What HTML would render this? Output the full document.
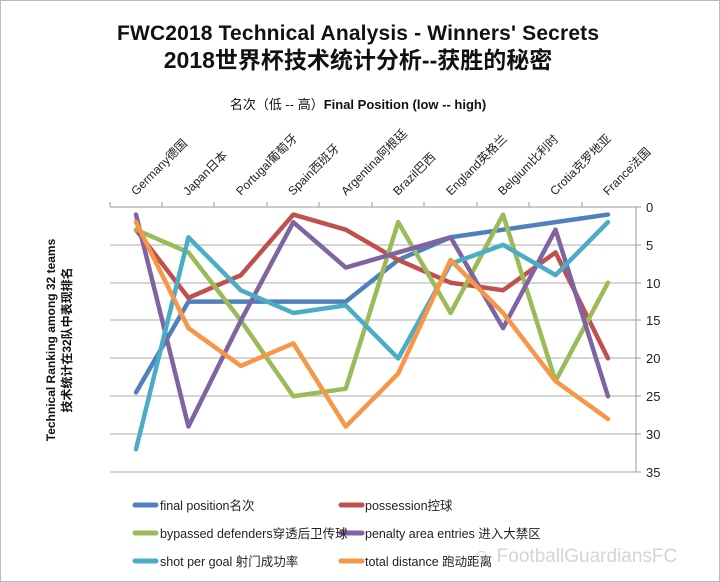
<!DOCTYPE html>
<html><head><meta charset="utf-8"><style>
html,body{margin:0;padding:0;background:#fff}
svg{display:block}
text{font-family:"Liberation Sans","Noto Sans CJK SC",sans-serif}
</style></head><body>
<svg width="720" height="582" viewBox="0 0 720 582" xmlns="http://www.w3.org/2000/svg">
<rect x="0.5" y="0.5" width="719" height="581" fill="#fff" stroke="#bbb"/>
<text x="358" y="40" text-anchor="middle" font-size="21" font-weight="bold" fill="#111" textLength="482">FWC2018 Technical Analysis - Winners' Secrets</text>
<text x="358" y="68" text-anchor="middle" font-size="23" font-weight="bold" fill="#111">2018世界杯技术统计分析--获胜的秘密</text>
<text x="358" y="109" text-anchor="middle" font-size="13" fill="#111">名次（低 -- 高）<tspan font-weight="bold">Final Position (low -- high)</tspan></text>
<g font-size="12" fill="#222">
<text transform="translate(136,196) rotate(-45)">Germany德国</text>
<text transform="translate(188,196) rotate(-45)">Japan日本</text>
<text transform="translate(241,196) rotate(-45)">Portugal葡萄牙</text>
<text transform="translate(293,196) rotate(-45)">Spain西班牙</text>
<text transform="translate(346,196) rotate(-45)">Argentina阿根廷</text>
<text transform="translate(398,196) rotate(-45)">Brazil巴西</text>
<text transform="translate(451,196) rotate(-45)">England英格兰</text>
<text transform="translate(503,196) rotate(-45)">Belgium比利时</text>
<text transform="translate(555,196) rotate(-45)">Crotia克罗地亚</text>
<text transform="translate(608,196) rotate(-45)">France法国</text>
</g>
<g stroke="#c8c8c8" stroke-width="1.5">
<line x1="110" y1="245" x2="636" y2="245"/><line x1="110" y1="283" x2="636" y2="283"/>
<line x1="110" y1="320" x2="636" y2="320"/><line x1="110" y1="358" x2="636" y2="358"/>
<line x1="110" y1="396" x2="636" y2="396"/><line x1="110" y1="434" x2="636" y2="434"/>
<line x1="110" y1="472" x2="636" y2="472"/>
</g>
<g stroke="#999" stroke-width="1">
<line x1="110" y1="207" x2="636" y2="207"/>
<line x1="636" y1="207" x2="636" y2="472"/>
<line x1="162" y1="202" x2="162" y2="207"/><line x1="214" y1="202" x2="214" y2="207"/>
<line x1="267" y1="202" x2="267" y2="207"/><line x1="319" y1="202" x2="319" y2="207"/>
<line x1="372" y1="202" x2="372" y2="207"/><line x1="424" y1="202" x2="424" y2="207"/>
<line x1="477" y1="202" x2="477" y2="207"/><line x1="529" y1="202" x2="529" y2="207"/>
<line x1="582" y1="202" x2="582" y2="207"/><line x1="110" y1="202" x2="110" y2="207"/>
<line x1="636" y1="207" x2="641" y2="207"/><line x1="636" y1="245" x2="641" y2="245"/>
<line x1="636" y1="283" x2="641" y2="283"/><line x1="636" y1="320" x2="641" y2="320"/>
<line x1="636" y1="358" x2="641" y2="358"/><line x1="636" y1="396" x2="641" y2="396"/>
<line x1="636" y1="434" x2="641" y2="434"/><line x1="636" y1="472" x2="641" y2="472"/>
</g>
<g font-size="13" fill="#222">
<text x="646" y="212">0</text><text x="646" y="250">5</text><text x="646" y="288">10</text>
<text x="646" y="325">15</text><text x="646" y="363">20</text><text x="646" y="401">25</text>
<text x="646" y="439">30</text><text x="646" y="477">35</text>
</g>
<text transform="translate(55,340) rotate(-90)" text-anchor="middle" font-size="12" font-weight="bold" fill="#111">Technical Ranking among 32 teams</text>
<text transform="translate(71,340) rotate(-90)" text-anchor="middle" font-size="12" font-weight="bold" fill="#111">技术统计在32队中表现排名</text>
<g transform="translate(136,207) scale(52.44,7.57)" fill="none" stroke-linejoin="round" stroke-linecap="round">
<polyline vector-effect="non-scaling-stroke" stroke-width="4.5" stroke="#4f81bd" points="0,24.5 1,12.5 2,12.5 3,12.5 4,12.5 5,7 6,4 7,3 8,2 9,1"/>
<polyline vector-effect="non-scaling-stroke" stroke-width="4.5" stroke="#c0504d" points="0,3 1,12 2,9 3,1 4,3 5,7 6,10 7,11 8,6 9,20"/>
<polyline vector-effect="non-scaling-stroke" stroke-width="4.5" stroke="#9bbb59" points="0,3 1,6 2,15 3,25 4,24 5,2 6,14 7,1 8,23 9,10"/>
<polyline vector-effect="non-scaling-stroke" stroke-width="4.5" stroke="#8064a2" points="0,1 1,29 2,15 3,2 4,8 5,6 6,4 7,16 8,3 9,25"/>
<polyline vector-effect="non-scaling-stroke" stroke-width="4.5" stroke="#4bacc6" points="0,32 1,4 2,11 3,14 4,13 5,20 6,7.5 7,5 8,9 9,2"/>
<polyline vector-effect="non-scaling-stroke" stroke-width="4.5" stroke="#f79646" points="0,2 1,16 2,21 3,18 4,29 5,22 6,7 7,14 8,23 9,28"/>
</g>
<g stroke-width="5" stroke-linecap="round">
<line x1="135" y1="505" x2="156" y2="505" stroke="#4f81bd"/>
<line x1="341" y1="505" x2="362" y2="505" stroke="#c0504d"/>
<line x1="135" y1="533" x2="156" y2="533" stroke="#9bbb59"/>
<line x1="341" y1="533" x2="362" y2="533" stroke="#8064a2"/>
<line x1="135" y1="561" x2="156" y2="561" stroke="#4bacc6"/>
<line x1="341" y1="561" x2="362" y2="561" stroke="#f79646"/>
</g>
<g font-size="12.5" fill="#222">
<text x="160" y="510">final position名次</text>
<text x="365" y="510">possession控球</text>
<text x="160" y="538">bypassed defenders穿透后卫传球</text>
<text x="365" y="538">penalty area entries 进入大禁区</text>
<text x="160" y="566">shot per goal 射门成功率</text>
<text x="365" y="566">total distance 跑动距离</text>
</g>
<text x="472" y="562" font-size="19" fill="#ccc" fill-opacity="0.85">☺ FootballGuardiansFC</text>
</svg>
</body></html>
